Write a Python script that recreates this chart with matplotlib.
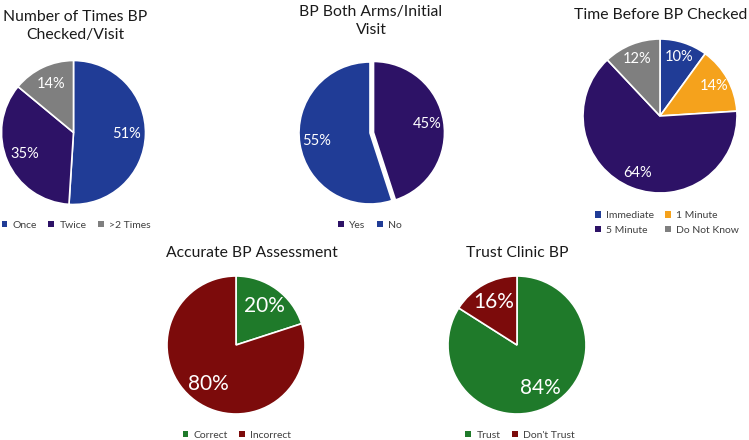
import matplotlib
matplotlib.use("Agg")
import matplotlib.pyplot as plt
from matplotlib.patches import Patch

plt.rcParams['font.family'] = ['Lato', 'DejaVu Sans']

# colours
BLUE = "#203c96"
PURPLE = "#2d1266"
GRAY = "#7f7f7f"
ORANGE = "#f5a21c"
GREEN = "#1f7a2a"
RED = "#7c0b0b"

# data
times_labels = ["Once", "Twice", ">2 Times"]
times_values = [51, 35, 14]

arms_labels = ["Yes", "No"]
arms_values = [45, 55]

wait_labels = ["Immediate", "1 Minute", "5 Minute", "Do Not Know"]
wait_values = [10, 14, 64, 12]

accurate_labels = ["Correct", "Incorrect"]
accurate_values = [20, 80]

trust_labels = ["Trust", "Don't Trust"]
trust_values = [84, 16]

W, H = 749, 440
fig = plt.figure(figsize=(W / 100, H / 100), dpi=100)


def fx(x):
    return x / W


def fy(y):
    return 1 - y / H


def pie_at(cx, cy, r, values, colors, pctdist, fsize, explode=None):
    ax = fig.add_axes([fx(cx - r), fy(cy + r), 2 * r / W, 2 * r / H])
    ax.pie(values, colors=colors, startangle=90, counterclock=False,
           autopct="%d%%", pctdistance=pctdist, explode=explode,
           wedgeprops=dict(edgecolor="white", linewidth=1.2),
           textprops=dict(color="white", fontsize=fsize))
    ax.set_xlim(-1, 1)
    ax.set_ylim(-1, 1)
    ax.axis("off")
    return ax


def title_at(cx, cy, text, size=11.3):
    fig.text(fx(cx), fy(cy), text, ha="center", va="center",
             fontsize=size, color="#1a1a1a", linespacing=1.3)


def legend_at(cx, cy, labels, colors, ncol):
    handles = [Patch(facecolor=c, edgecolor="none") for c in colors]
    fig.legend(handles, labels, loc="center", bbox_to_anchor=(fx(cx), fy(cy)),
               ncol=ncol, frameon=False, fontsize=7.5, handlelength=0.55,
               handleheight=0.55, handletextpad=0.5, columnspacing=1.1,
               labelspacing=0.55, labelcolor="#404040", borderpad=0)


# chart 1
pie_at(73.5, 132.5, 72, times_values, [BLUE, PURPLE, GRAY], 0.74, 10.5)
title_at(75, 26, "Number of Times BP\nChecked/Visit")
legend_at(76, 225, times_labels, [BLUE, PURPLE, GRAY], 3)

# chart 2
pie_at(370, 133, 71, arms_values, [PURPLE, BLUE], 0.76, 10.5, explode=[0.05, 0])
title_at(371, 21, "BP Both Arms/Initial\nVisit")
legend_at(370, 225, arms_labels, [PURPLE, BLUE], 2)

# chart 3
wait_colors = [BLUE, ORANGE, PURPLE, GRAY]
pie_at(660, 116, 77, wait_values, wait_colors, 0.8, 10.5)
title_at(661, 15, "Time Before BP Checked")
order = [0, 2, 1, 3]
legend_at(667, 223, [wait_labels[i] for i in order],
          [wait_colors[i] for i in order], 2)

# chart 4
pie_at(236, 345, 69, accurate_values, [GREEN, RED], 0.69, 15)
title_at(252, 253, "Accurate BP Assessment", 11.3)
legend_at(237, 435, accurate_labels, [GREEN, RED], 2)

# chart 5
pie_at(517, 345, 69, trust_values, [GREEN, RED], 0.71, 15)
title_at(517, 253, "Trust Clinic BP", 11.3)
legend_at(520, 435, trust_labels, [GREEN, RED], 2)

fig.savefig("out.png", dpi=100, facecolor="white")
